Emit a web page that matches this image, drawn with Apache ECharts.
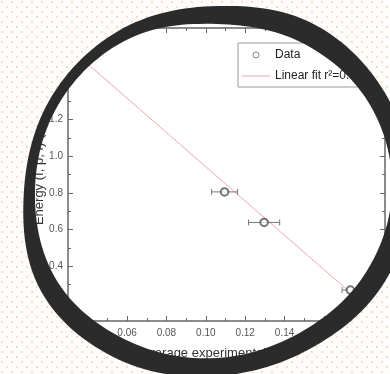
<!DOCTYPE html>
<html>
<head>
<meta charset="utf-8">
<script src="https://cdn.jsdelivr.net/npm/echarts@6/dist/echarts.min.js"></script>
<style>
html,body{margin:0;padding:0;background:#fff;}
#chart{width:390px;height:374px;}
</style>
</head>
<body>
<div id="chart"></div>
<script>
// ---- data ----
const dataX = [0.1095, 0.1296, 0.1734];
const dataY = [0.805, 0.638, 0.269];
const errX  = [0.0066, 0.0079, 0.0042];
const fitX  = [0.036, 0.176];
const fitY  = [1.541, 0.231];
const xMajorTicks = [0.04, 0.06, 0.08, 0.10, 0.12, 0.14, 0.16, 0.18];
const xMinorTicks = [0.03, 0.05, 0.07, 0.09, 0.11, 0.13, 0.15, 0.17, 0.19];
const yMajorTicks = [0.2, 0.4, 0.6, 0.8, 1.0, 1.2, 1.4, 1.6];
const yMinorTicks = [0.1, 0.3, 0.5, 0.7, 0.9, 1.1, 1.3, 1.5, 1.7];
const seriesNames = ['Data', 'Linear fit r\u00b2=0.99'];
const xTitle = 'Average experimental time (s)';
const yTitle = 'Energy (I, p, I) (J)';

// ---- lens decoration (not data) ----
const lensC = [217, 190];
const innerKnots = [175, 170, 165, 168, 175, 184, 182, 180, 175, 166, 170, 175];
const outerKnots = [195, 191, 184, 186, 196, 203, 193, 190, 187, 184, 192, 194];
function rad(k, deg) {
  const t = (((deg % 360) + 360) % 360) / 30;
  const i = Math.floor(t), f = t - i, n = k.length;
  const p0 = k[(i - 1 + n) % n], p1 = k[i % n], p2 = k[(i + 1) % n], p3 = k[(i + 2) % n];
  return 0.5 * (2 * p1 + (-p0 + p2) * f + (2 * p0 - 5 * p1 + 4 * p2 - p3) * f * f + (-p0 + 3 * p1 - 3 * p2 + p3) * f * f * f);
}
function pt(k, deg) {
  const r = rad(k, deg), a = deg * Math.PI / 180;
  return [lensC[0] + r * Math.cos(a), lensC[1] + r * Math.sin(a)];
}
const ringPts = [];
for (let d = 180; d <= 540; d += 2) ringPts.push(pt(outerKnots, d));
for (let d = 540; d >= 180; d -= 2) ringPts.push(pt(innerKnots, d));
const maskPts = [[-20, lensC[1]], [-20, -20], [420, -20], [420, 400], [-20, 400], [-20, lensC[1]]];
for (let d = 180; d >= -180; d -= 2) maskPts.push(pt(outerKnots, d));

const pc = document.createElement('canvas');
pc.width = 10; pc.height = 10;
const pctx = pc.getContext('2d');
pctx.fillStyle = '#fffdfb'; pctx.fillRect(0, 0, 10, 10);
pctx.fillStyle = '#f9dcc8';
pctx.fillRect(1, 1, 2, 2); pctx.fillRect(6, 6, 2, 2);

const errData = dataX.map((x, i) => [x, dataY[i], errX[i]]);
const scatterData = dataX.map((x, i) => [x, dataY[i]]);
const fitData = fitX.map((x, i) => [x, fitY[i]]);

const axisCol = '#666';
const font = 'Liberation Sans, Arial, sans-serif';
function xAx(pos, ticks, len, labels, extra) {
  return Object.assign({
    type: 'value', gridIndex: 0, position: pos, min: 0.03, max: 0.191,
    axisLine: { show: true, onZero: false, lineStyle: { color: axisCol, width: 1.5 } },
    axisTick: { show: true, inside: true, length: len, customValues: ticks, lineStyle: { color: axisCol, width: 1 } },
    axisLabel: labels ? { show: true, customValues: ticks, margin: 7, color: '#555', fontSize: 10, fontFamily: font, formatter: v => v.toFixed(2) } : { show: false },
    splitLine: { show: false }
  }, extra || {});
}
function yAx(pos, ticks, len, labels, extra) {
  return Object.assign({
    type: 'value', gridIndex: 0, position: pos, min: 0.1, max: 1.7,
    axisLine: { show: true, onZero: false, lineStyle: { color: axisCol, width: 1.5 } },
    axisTick: { show: true, inside: true, length: len, customValues: ticks, lineStyle: { color: axisCol, width: 1 } },
    axisLabel: labels ? { show: true, customValues: ticks, margin: 5, color: '#555', fontSize: 10, fontFamily: font, formatter: v => v.toFixed(1) } : { show: false },
    splitLine: { show: false }
  }, extra || {});
}

const chart = echarts.init(document.getElementById('chart'), null, { renderer: 'canvas' });
chart.setOption({
  backgroundColor: '#fff',
  animation: false,
  grid: { left: 68, right: 5, top: 28, bottom: 53, outerBoundsMode: 'none' },
  xAxis: [
    xAx('bottom', xMajorTicks, 5, true, {
      name: xTitle, nameLocation: 'middle', nameGap: 26, nameMoveOverlap: false,
      nameTextStyle: { color: '#333', fontSize: 13, fontFamily: font }
    }),
    xAx('top', xMajorTicks, 5, false),
    xAx('bottom', xMinorTicks, 3, false, { axisLine: { show: false, onZero: false } }),
    xAx('top', xMinorTicks, 3, false, { axisLine: { show: false, onZero: false } })
  ],
  yAxis: [
    yAx('left', yMajorTicks, 5, true, {
      name: yTitle, nameLocation: 'middle', nameGap: 22, nameMoveOverlap: false,
      nameTextStyle: { color: '#333', fontSize: 13, fontFamily: font }
    }),
    yAx('right', yMajorTicks, 5, false),
    yAx('left', yMinorTicks, 3, false, { axisLine: { show: false, onZero: false } }),
    yAx('right', yMinorTicks, 3, false, { axisLine: { show: false, onZero: false } })
  ],
  legend: {
    data: [
      { name: seriesNames[0], icon: 'circle', itemStyle: { color: '#fff', borderColor: '#666', borderWidth: 1 } },
      { name: seriesNames[1], icon: 'path://M0,0 L28,0 L28,1 L0,1 Z', itemStyle: { color: '#eba9b0' } }
    ],
    orient: 'vertical', left: 238, top: 43,
    padding: [6, 40, 5, 4], itemGap: 9, itemWidth: 28, itemHeight: 6,
    backgroundColor: '#fff', borderColor: '#999', borderWidth: 1,
    textStyle: { color: '#222', fontSize: 12, fontFamily: font },
    z: 5
  },
  series: [
    {
      type: 'custom', name: 'err', xAxisIndex: 0, yAxisIndex: 0, z: 3,
      data: errData, encode: { x: 0, y: 1 },
      renderItem: function (params, api) {
        const x = api.value(0), y = api.value(1), e = api.value(2);
        const l = api.coord([x - e, y]), r = api.coord([x + e, y]);
        const st = { stroke: '#777', lineWidth: 1 };
        return { type: 'group', children: [
          { type: 'line', shape: { x1: l[0], y1: l[1], x2: r[0], y2: r[1] }, style: st },
          { type: 'line', shape: { x1: l[0], y1: l[1] - 3, x2: l[0], y2: l[1] + 3 }, style: st },
          { type: 'line', shape: { x1: r[0], y1: r[1] - 3, x2: r[0], y2: r[1] + 3 }, style: st }
        ] };
      }
    },
    {
      type: 'line', name: seriesNames[1], xAxisIndex: 0, yAxisIndex: 0, z: 2,
      data: fitData, symbol: 'none', showSymbol: false,
      lineStyle: { color: '#eba9b0', width: 1 }, itemStyle: { color: '#eba9b0' }
    },
    {
      type: 'scatter', name: seriesNames[0], xAxisIndex: 0, yAxisIndex: 0, z: 4,
      data: scatterData, symbol: 'emptyCircle', symbolSize: 7.5,
      itemStyle: { color: '#555', borderWidth: 1 }
    }
  ],
  graphic: [
    { type: 'polygon', silent: true, z: 100, shape: { points: maskPts },
      style: { fill: { image: pc, repeat: 'repeat' }, stroke: null } },
    { type: 'polygon', silent: true, z: 101, shape: { points: ringPts },
      style: { fill: '#2b2b2b', stroke: null } }
  ]
});
</script>
</body>
</html>
